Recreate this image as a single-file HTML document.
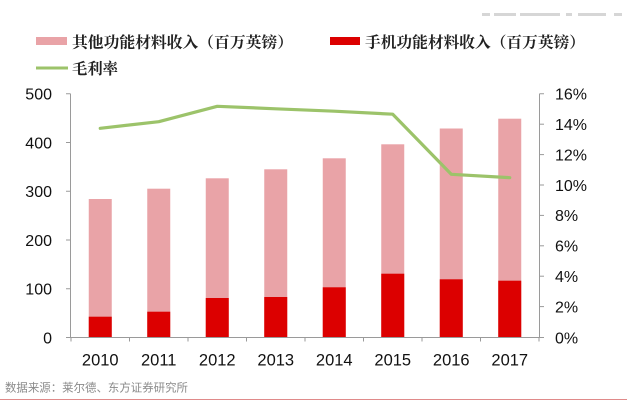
<!DOCTYPE html>
<html>
<head>
<meta charset="utf-8">
<style>
  html, body { margin:0; padding:0; background:#ffffff; }
  body { width:629px; height:407px; overflow:hidden; }
  svg { display:block; }
  .num { font-family:"Liberation Sans", Arial, sans-serif; font-size:16px; fill:#111; }
  .leg { font-family:"Liberation Serif", "Noto Serif CJK SC", serif; font-size:15.5px; font-weight:bold; fill:#222; }
  .src { font-family:"Liberation Sans", "Noto Sans CJK SC", sans-serif; font-size:11.3px; fill:#8a8a8a; }
</style>
</head>
<body>
<svg width="629" height="407" viewBox="0 0 629 407" xmlns="http://www.w3.org/2000/svg">
  <rect x="0" y="0" width="629" height="407" fill="#ffffff"/>

  <!-- faint header watermark -->
  <g fill="#d6d6d6">
    <rect x="482" y="13" width="8" height="3"/>
    <rect x="494" y="13" width="22" height="3"/>
    <rect x="520" y="13" width="40" height="3"/>
    <rect x="566" y="13" width="6" height="3"/>
    <rect x="578" y="13" width="28" height="3"/>
    <rect x="614" y="13" width="8" height="3"/>
  </g>

  <!-- legend -->
  <rect x="36" y="37" width="31" height="8" fill="#e9a3a7"/>
  <text class="leg" x="72" y="47.5" textLength="221" lengthAdjust="spacingAndGlyphs">其他功能材料收入（百万英镑）</text>
  <rect x="330" y="37" width="30" height="8" fill="#dc0000"/>
  <text class="leg" x="365" y="47.5" textLength="220" lengthAdjust="spacingAndGlyphs">手机功能材料收入（百万英镑）</text>
  <line x1="36" y1="68" x2="68" y2="68" stroke="#9cc36a" stroke-width="3"/>
  <text class="leg" x="72" y="74" textLength="46" lengthAdjust="spacingAndGlyphs">毛利率</text>

  <!-- bars: pink totals -->
  <g fill="#e9a3a7">
    <rect x="88.75"  y="199"   width="23" height="138.5"/>
    <rect x="147.25" y="188.7" width="23" height="148.8"/>
    <rect x="205.75" y="178.3" width="23" height="159.2"/>
    <rect x="264.25" y="169.3" width="23" height="168.2"/>
    <rect x="322.75" y="158.3" width="23" height="179.2"/>
    <rect x="381.25" y="144.3" width="23" height="193.2"/>
    <rect x="439.75" y="128.5" width="23" height="209"/>
    <rect x="498.25" y="118.7" width="23" height="218.8"/>
  </g>
  <!-- bars: red -->
  <g fill="#dc0000">
    <rect x="88.75"  y="316.7" width="23" height="20.8"/>
    <rect x="147.25" y="311.7" width="23" height="25.8"/>
    <rect x="205.75" y="298"   width="23" height="39.5"/>
    <rect x="264.25" y="297"   width="23" height="40.5"/>
    <rect x="322.75" y="287.3" width="23" height="50.2"/>
    <rect x="381.25" y="273.7" width="23" height="63.8"/>
    <rect x="439.75" y="279.3" width="23" height="58.2"/>
    <rect x="498.25" y="280.7" width="23" height="56.8"/>
  </g>

  <!-- axes -->
  <g stroke="#9a9a9a" stroke-width="1" fill="none">
    <line x1="70.5" y1="93.75" x2="70.5" y2="337.5"/>
    <line x1="539.5" y1="93.75" x2="539.5" y2="337.5"/>
    <line x1="70.5" y1="337.5" x2="539.5" y2="337.5"/>
    <!-- left ticks -->
    <line x1="66" y1="93.75" x2="70.5" y2="93.75"/>
    <line x1="66" y1="142.5" x2="70.5" y2="142.5"/>
    <line x1="66" y1="191.25" x2="70.5" y2="191.25"/>
    <line x1="66" y1="240" x2="70.5" y2="240"/>
    <line x1="66" y1="288.75" x2="70.5" y2="288.75"/>
    <line x1="66" y1="337.5" x2="70.5" y2="337.5"/>
    <!-- right ticks -->
    <line x1="539.5" y1="93.75" x2="544" y2="93.75"/>
    <line x1="539.5" y1="124.2" x2="544" y2="124.2"/>
    <line x1="539.5" y1="154.6" x2="544" y2="154.6"/>
    <line x1="539.5" y1="185" x2="544" y2="185"/>
    <line x1="539.5" y1="215.4" x2="544" y2="215.4"/>
    <line x1="539.5" y1="245.8" x2="544" y2="245.8"/>
    <line x1="539.5" y1="276.2" x2="544" y2="276.2"/>
    <line x1="539.5" y1="306.6" x2="544" y2="306.6"/>
    <line x1="539.5" y1="337.5" x2="544" y2="337.5"/>
    <!-- category ticks -->
    <line x1="71"    y1="337.5" x2="71"    y2="341.5"/>
    <line x1="129.5" y1="337.5" x2="129.5" y2="341.5"/>
    <line x1="188"   y1="337.5" x2="188"   y2="341.5"/>
    <line x1="246.5" y1="337.5" x2="246.5" y2="341.5"/>
    <line x1="305"   y1="337.5" x2="305"   y2="341.5"/>
    <line x1="363.5" y1="337.5" x2="363.5" y2="341.5"/>
    <line x1="422"   y1="337.5" x2="422"   y2="341.5"/>
    <line x1="480.5" y1="337.5" x2="480.5" y2="341.5"/>
    <line x1="539"   y1="337.5" x2="539"   y2="341.5"/>
  </g>

  <!-- margin line -->
  <polyline fill="none" stroke="#9cc36a" stroke-width="3.2" stroke-linejoin="round" stroke-linecap="round"
    points="100.25,128.3 158.75,121.7 217.25,106.3 275.75,108.8 334.25,111.2 392.75,114.2 451.25,174.3 509.75,177.7"/>

  <!-- left labels -->
  <g class="num" text-anchor="end">
    <text x="52" y="99.5">500</text>
    <text x="52" y="148.3">400</text>
    <text x="52" y="197">300</text>
    <text x="52" y="245.8">200</text>
    <text x="52" y="294.5">100</text>
    <text x="52" y="343.3">0</text>
  </g>
  <!-- right labels -->
  <g class="num">
    <text x="555" y="99.5">16%</text>
    <text x="555" y="130">14%</text>
    <text x="555" y="160.4">12%</text>
    <text x="555" y="190.8">10%</text>
    <text x="555" y="221.2">8%</text>
    <text x="555" y="251.6">6%</text>
    <text x="555" y="282">4%</text>
    <text x="555" y="312.4">2%</text>
    <text x="555" y="343.3">0%</text>
  </g>
  <!-- category labels -->
  <g class="num" text-anchor="middle" style="font-size:16.5px">
    <text x="100.25" y="365.5">2010</text>
    <text x="158.75" y="365.5">2011</text>
    <text x="217.25" y="365.5">2012</text>
    <text x="275.75" y="365.5">2013</text>
    <text x="334.25" y="365.5">2014</text>
    <text x="392.75" y="365.5">2015</text>
    <text x="451.25" y="365.5">2016</text>
    <text x="509.75" y="365.5">2017</text>
  </g>

  <!-- source -->
  <text class="src" x="5" y="391.5" textLength="183" lengthAdjust="spacingAndGlyphs">数据来源：莱尔德、东方证券研究所</text>
  <line x1="0" y1="399.5" x2="627" y2="399.5" stroke="#e08a8a" stroke-width="1"/>
</svg>
</body>
</html>
